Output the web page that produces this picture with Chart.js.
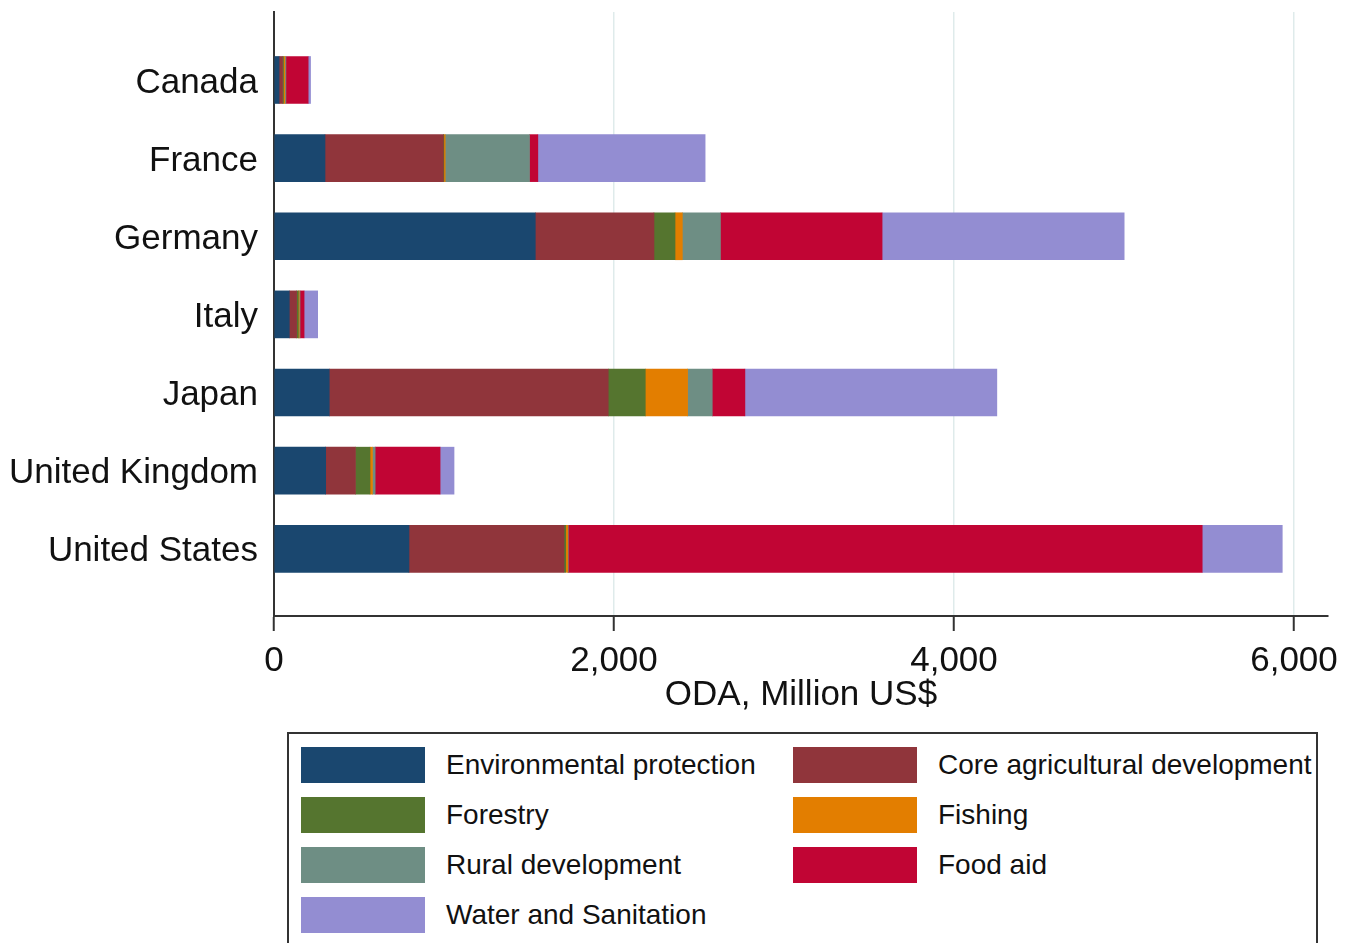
<!DOCTYPE html>
<html>
<head>
<meta charset="utf-8">
<script src="https://cdn.jsdelivr.net/npm/chart.js@4.4.1/dist/chart.umd.min.js"></script>
<style>
  html, body { margin: 0; padding: 0; background: #fff; }
  body { width: 1353px; height: 943px; position: relative; overflow: hidden; font-family: "Liberation Sans", Arial, sans-serif; }
  #wrap { position: absolute; left: 0; top: 0; width: 1353px; height: 720px; }
  #legend { position: absolute; left: 287px; top: 732px; width: 1031px; height: 260px; border: 2px solid #333; box-sizing: border-box; }
  .item { position: absolute; height: 36px; }
  .sw { position: absolute; left: 0; top: 0; width: 124px; height: 36px; }
  .lbl { position: absolute; left: 145px; top: 0; line-height: 36px; font-size: 28px; color: #111; white-space: nowrap; }
</style>
</head>
<body>
<div id="wrap"><canvas id="chart" width="1353" height="720"></canvas></div>
<div id="legend"></div>
<script>
const countries = ['Canada', 'France', 'Germany', 'Italy', 'Japan', 'United Kingdom', 'United States'];
const xTicks = [0, 2000, 4000, 6000];

// ODA by sector, million US$
const envProtection = [30, 300, 1537, 90, 325, 304, 794];
const coreAgri      = [20, 696, 698, 43, 1641, 175, 912];
const forestry      = [6, 3, 124, 10, 218, 86, 10];
const fishing       = [8, 8, 43, 5, 249, 14, 12];
const rural         = [6, 496, 224, 5, 145, 16, 3];
const foodAid       = [131, 49, 951, 24, 192, 382, 3729];
const water         = [14, 984, 1424, 80, 1482, 82, 471];

const series = [
  { label: 'Environmental protection', values: envProtection, color: '#1a476f' },
  { label: 'Core agricultural development', values: coreAgri, color: '#90353b' },
  { label: 'Forestry', values: forestry, color: '#55752f' },
  { label: 'Fishing', values: fishing, color: '#e37e00' },
  { label: 'Rural development', values: rural, color: '#6e8e84' },
  { label: 'Food aid', values: foodAid, color: '#c10534' },
  { label: 'Water and Sanitation', values: water, color: '#938dd2' }
];

Chart.defaults.font.family = '"Liberation Sans", Arial, sans-serif';
Chart.defaults.color = '#111';

const datasets = series.map(s => ({
  label: s.label,
  data: s.values.map((v, i) => ({ x: v, y: i })),
  backgroundColor: s.color,
  borderWidth: 0,
  barThickness: 47
}));

new Chart(document.getElementById('chart'), {
  type: 'bar',
  data: { datasets },
  options: {
    indexAxis: 'y',
    responsive: false,
    animation: false,
    layout: { padding: { top: 12, right: 25, left: 0, bottom: 0 } },
    plugins: { legend: { display: false }, tooltip: { enabled: false } },
    scales: {
      x: {
        type: 'linear',
        stacked: true,
        min: 0,
        max: 6200,
        afterBuildTicks: scale => { scale.ticks = xTicks.map(v => ({ value: v })); },
        afterFit: scale => { scale.height = 104; scale.paddingLeft = 0; scale.paddingRight = 0; },
        ticks: {
          padding: 13,
          font: { size: 35, lineHeight: 1 },
          color: '#111',
          callback: v => v.toLocaleString('en-US')
        },
        grid: { color: '#dfebeb', lineWidth: 1.5, tickColor: '#333', tickLength: 15, tickWidth: 2 },
        border: { color: '#333', width: 2 },
        title: {
          display: true,
          text: 'ODA, Million US$',
          font: { size: 35, lineHeight: 1 },
          color: '#111',
          padding: { top: 0, bottom: 7 }
        }
      },
      y: {
        type: 'linear',
        stacked: true,
        reverse: true,
        offset: false,
        min: -0.87,
        max: 6.86,
        afterBuildTicks: scale => { scale.ticks = countries.map((c, i) => ({ value: i })); },
        afterFit: scale => { scale.width = 274; scale.paddingTop = 0; scale.paddingBottom = 0; },
        ticks: {
          padding: 16,
          labelOffset: 3,
          font: { size: 35, lineHeight: 1 },
          color: '#111',
          callback: v => countries[v]
        },
        grid: { display: false, drawTicks: false },
        border: { color: '#333', width: 2 }
      }
    }
  }
});

const legend = document.getElementById('legend');
series.forEach((s, i) => {
  const item = document.createElement('div');
  item.className = 'item';
  item.style.left = (i % 2 === 0 ? 12 : 504) + 'px';
  item.style.top = (13 + Math.floor(i / 2) * 50) + 'px';
  item.innerHTML = `<div class="sw" style="background:${s.color}"></div><div class="lbl">${s.label}</div>`;
  legend.appendChild(item);
});
</script>
</body>
</html>
